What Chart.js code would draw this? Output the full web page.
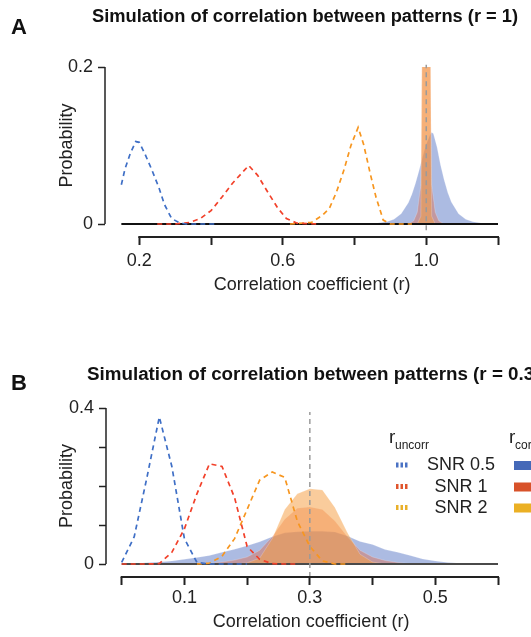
<!DOCTYPE html>
<html><head><meta charset="utf-8">
<script src="https://cdn.jsdelivr.net/npm/chart.js@4.4.1/dist/chart.umd.min.js"></script>
<style>
html,body{margin:0;padding:0;background:#fff;width:531px;height:637px;overflow:hidden}
canvas{display:block}
</style></head><body>
<canvas id="cA" width="531" height="320"></canvas>
<canvas id="cB" width="531" height="317"></canvas>
<script>
// ---------- Panel A data (true r = 1) ----------
const xA_unc05 = [0.15,0.16,0.175,0.19,0.20,0.215,0.235,0.255,0.27,0.29,0.31,0.33,0.42];
const yA_unc05 = [0.05,0.07,0.09,0.105,0.104,0.09,0.069,0.046,0.025,0.007,0.002,0,0];
const xA_unc1  = [0.25,0.30,0.34,0.37,0.40,0.43,0.46,0.48,0.505,0.53,0.555,0.585,0.61,0.64,0.70];
const yA_unc1  = [0,0,0.002,0.007,0.017,0.034,0.052,0.062,0.0745,0.062,0.043,0.021,0.007,0.001,0];
const xA_unc2  = [0.62,0.68,0.71,0.73,0.75,0.77,0.79,0.81,0.825,0.845,0.86,0.88,0.90,0.96];
const yA_unc2  = [0,0.002,0.011,0.02,0.041,0.068,0.1,0.123,0.102,0.062,0.034,0.005,0,0];
const xA_cor05 = [0.82,0.86,0.89,0.91,0.93,0.95,0.96,0.97,0.98,0.99,1.00,1.01,1.015,1.02,1.03,1.04,1.05,1.06,1.07,1.09,1.11,1.13,1.17];
const yA_cor05 = [0,0.001,0.003,0.006,0.013,0.027,0.038,0.052,0.068,0.086,0.102,0.113,0.117,0.115,0.098,0.075,0.056,0.04,0.028,0.013,0.006,0.003,0];
const xA_cor1  = [0.95,0.965,0.975,0.985,0.99,1.00,1.01,1.015,1.025,1.035,1.05];
const yA_cor1  = [0,0.004,0.015,0.05,0.3,0.45,0.3,0.05,0.015,0.004,0];
const xA_cor2  = [0.975,0.985,0.99,1.00,1.01,1.015,1.025];
const yA_cor2  = [0,0.01,0.35,0.8,0.35,0.01,0];
const xA_ticks = [0.2,0.4,0.6,0.8,1.0,1.2];
const xA_tickLabels = ['0.2','','0.6','','1.0',''];
const yA_ticks = [0,0.2];
const yA_tickLabels = ['0','0.2'];
const trueA = 1.0;
const baseA = [0.15,1.2];

// ---------- Panel B data (true r = 0.3) ----------
const xB_unc05 = [0,0.02,0.04,0.06,0.08,0.10,0.12,0.14,0.16,0.18,0.20];
const yB_unc05 = [0.004,0.07,0.22,0.377,0.25,0.065,0.004,0,0,0,0];
const xB_unc1  = [0,0.02,0.04,0.06,0.08,0.10,0.12,0.14,0.16,0.18,0.20,0.22,0.24,0.26,0.28];
const yB_unc1  = [0,0,0,0.001,0.03,0.09,0.18,0.257,0.25,0.17,0.045,0.012,0.001,0,0];
const xB_unc2  = [0.12,0.14,0.16,0.18,0.20,0.22,0.24,0.26,0.28,0.30,0.32,0.34,0.36];
const yB_unc2  = [0,0.002,0.02,0.065,0.14,0.215,0.236,0.222,0.11,0.045,0.008,0,0];
const xB_cor05 = [0,0.02,0.04,0.06,0.08,0.10,0.12,0.14,0.16,0.18,0.20,0.22,0.24,0.26,0.28,0.30,0.32,0.34,0.36,0.38,0.40,0.42,0.44,0.46,0.48,0.50,0.52,0.54,0.56];
const yB_cor05 = [0,0.001,0.003,0.005,0.008,0.012,0.017,0.022,0.03,0.038,0.047,0.057,0.07,0.08,0.083,0.084,0.084,0.082,0.072,0.058,0.05,0.037,0.03,0.022,0.013,0.008,0.004,0.002,0];
const xB_cor1  = [0.12,0.14,0.16,0.18,0.20,0.22,0.24,0.26,0.28,0.30,0.32,0.34,0.36,0.38,0.40,0.42,0.44,0.46,0.48];
const yB_cor1  = [0,0.002,0.005,0.01,0.018,0.035,0.07,0.115,0.143,0.146,0.14,0.11,0.07,0.035,0.018,0.009,0.004,0.001,0];
const xB_cor2  = [0.18,0.20,0.22,0.24,0.26,0.28,0.30,0.32,0.34,0.36,0.38,0.40,0.42];
const yB_cor2  = [0,0.003,0.015,0.065,0.14,0.18,0.193,0.19,0.145,0.08,0.025,0.005,0];
const xB_ticks = [0,0.1,0.2,0.3,0.4,0.5,0.6];
const xB_tickLabels = ['','0.1','','0.3','','0.5',''];
const yB_ticks = [0,0.1,0.2,0.3,0.4];
const yB_tickLabels = ['0','','','','0.4'];
const trueB = 0.3;
const baseB = [0,0.6];

const legendLabels = ['SNR 0.5','SNR 1','SNR 2'];

// ---------- styles ----------
const FONT = "'Liberation Sans', Arial, Helvetica, sans-serif";
const C_DASH = ['#3f6fc6','#f2412a','#f7961f'];
const C_FILL = ['rgba(74,106,192,0.46)','rgba(232,92,48,0.37)','rgba(246,158,68,0.53)'];
const C_KEY = ['#4569b8','#d8522a','#ebb024'];
const C_ICON = ['#4a72c4','#e0552d','#e9b02a'];

function pts(xs, ys){ return xs.map((x,i)=>({x:x, y:ys[i]})); }

function fillDs(xs, ys, k, order){
  return {data:pts(xs,ys), fill:'origin', backgroundColor:C_FILL[k], borderWidth:0.8,
          borderColor:'rgba(255,255,255,0.25)', pointRadius:0, tension:0, order:order};
}
function dashDs(xs, ys, k){
  return {data:pts(xs,ys), fill:false, borderColor:C_DASH[k], borderWidth:1.7, borderDash:[5,4],
          pointRadius:0, tension:0, order:3};
}

const decor = {
  id:'decor',
  afterDraw(chart, args, o){
    const ctx = chart.ctx, xs = chart.scales.x, ys = chart.scales.y, ca = chart.chartArea;
    ctx.save();
    ctx.strokeStyle = '#222'; ctx.lineCap = 'butt';
    ctx.lineWidth = 1.5;
    ctx.beginPath();
    ctx.moveTo(ca.left, ys.getPixelForValue(o.yr[0]));
    ctx.lineTo(ca.left, ys.getPixelForValue(o.yr[1]));
    ctx.stroke();
    ctx.lineWidth = 2;
    ctx.beginPath();
    ctx.moveTo(xs.getPixelForValue(o.xr[0]) - 1, ca.bottom);
    ctx.lineTo(xs.getPixelForValue(o.xr[1]) + 1, ca.bottom);
    ctx.stroke();
    ctx.fillStyle = '#111';
    ctx.textBaseline = 'alphabetic';
    ctx.textAlign = 'left';
    ctx.font = 'bold 22px ' + FONT;
    ctx.fillText(o.letter, o.letterX, o.letterY);
    ctx.font = 'bold ' + o.titleSize + 'px ' + FONT;
    ctx.fillText(o.title, o.titleX, o.titleY);
    ctx.fillStyle = '#222';
    ctx.font = '18px ' + FONT;
    ctx.textAlign = 'center';
    ctx.fillText('Correlation coefficient (r)', o.xtX, o.xtY);
    ctx.save();
    const yc = (ys.getPixelForValue(o.yr[0]) + ys.getPixelForValue(o.yr[1])) / 2;
    ctx.translate(o.ytX, yc);
    ctx.rotate(-Math.PI/2);
    ctx.textBaseline = 'middle';
    ctx.fillText('Probability', 0, 0);
    ctx.restore();
    if (o.legend) {
      const L = o.legend;
      ctx.textAlign = 'left';
      ctx.textBaseline = 'alphabetic';
      ctx.font = '19px ' + FONT;
      ctx.fillText('r', L.r1x, L.ry);
      ctx.fillText('r', L.r2x, L.ry);
      ctx.font = '12px ' + FONT;
      ctx.fillText('uncorr', L.r1x + 6, L.ry + 6);
      ctx.fillText('corr', L.r2x + 6, L.ry + 6);
      ctx.font = '18px ' + FONT;
      ctx.textAlign = 'center';
      for (let i = 0; i < legendLabels.length; i++) {
        const yy = L.rows[i];
        ctx.fillStyle = '#222';
        ctx.fillText(legendLabels[i], L.textX, yy + 6.5);
        ctx.strokeStyle = C_ICON[i];
        ctx.lineWidth = 5;
        ctx.setLineDash([2.5,2]);
        ctx.beginPath(); ctx.moveTo(L.iconX, yy + 1.5); ctx.lineTo(L.iconX + 13, yy + 1.5); ctx.stroke();
        ctx.setLineDash([]);
        ctx.fillStyle = C_KEY[i];
        ctx.fillRect(L.keyX, yy - 2.5, 30, 9);
      }
    }
    ctx.restore();
  }
};

function tickCfg(vals, labels, pad, len){
  return {
    afterBuildTicks: s => { s.ticks = vals.map(v => ({value:v})); },
    ticks: {
      autoSkip:false, maxRotation:0, padding:pad, color:'#222',
      font:{family:FONT, size:18},
      callback: (v) => { const i = vals.findIndex(t => Math.abs(t - v) < 1e-9); return i >= 0 ? labels[i] : ''; }
    },
    grid: {display:true, drawOnChartArea:false, drawTicks:true, tickLength:len, tickWidth:2, tickColor:'#222'},
    border: {display:false}
  };
}

function makeChart(id, P){
  const datasets = [
    fillDs(P.c05x, P.c05y, 0, 30),
    fillDs(P.c1x, P.c1y, 1, 20),
    fillDs(P.c2x, P.c2y, 2, 10),
    {data:[{x:P.base[0],y:0},{x:P.base[1],y:0}], borderColor:P.baseColor, borderWidth:2.2, pointRadius:0, fill:false, order:6},
    dashDs(P.u05x, P.u05y, 0),
    dashDs(P.u1x, P.u1y, 1),
    dashDs(P.u2x, P.u2y, 2),
    {data:[{x:P.truth,y:P.grayY[0]},{x:P.truth,y:P.grayY[1]}], borderColor:'#9b9b9b', borderWidth:1.5,
     borderDash:[5,4], pointRadius:0, fill:false, order:1, clip:false}
  ];
  const xc = tickCfg(P.xt, P.xl, P.xPad, 8);
  xc.type = 'linear'; xc.min = P.xmin; xc.max = P.xmax;
  xc.afterFit = s => { s.height = P.xH; };
  const yc = tickCfg(P.yt, P.yl, 5, 7);
  yc.type = 'linear'; yc.min = P.ymin; yc.max = P.ymax;
  yc.afterFit = s => { s.width = P.yW; };
  yc.grid.tickWidth = 1.5;
  return new Chart(document.getElementById(id), {
    type:'line',
    data:{datasets:datasets},
    options:{
      responsive:false, animation:false, events:[],
      layout:{padding:{top:P.padTop, right:33, bottom:0, left:0}},
      scales:{x:xc, y:yc},
      plugins:{legend:{display:false}, tooltip:{enabled:false}, decor:P.decor}
    },
    plugins:[decor]
  });
}

makeChart('cA', {
  c05x:xA_cor05, c05y:yA_cor05, c1x:xA_cor1, c1y:yA_cor1, c2x:xA_cor2, c2y:yA_cor2,
  u05x:xA_unc05, u05y:yA_unc05, u1x:xA_unc1, u1y:yA_unc1, u2x:xA_unc2, u2y:yA_unc2,
  base:baseA, baseColor:'#111', truth:trueA, grayY:[-0.008,0.203],
  xt:xA_ticks, xl:xA_tickLabels, yt:yA_ticks, yl:yA_tickLabels,
  xmin:0.1044, xmax:1.2, ymin:-0.01656, ymax:0.2, xH:83, yW:105, padTop:67, xPad:5,
  decor:{xr:[0.2,1.2], yr:[0,0.2], letter:'A', letterX:11, letterY:34,
    title:'Simulation of correlation between patterns (r = 1)', titleX:92, titleY:22, titleSize:18.3,
    xtX:312, xtY:290, ytX:67}
});

makeChart('cB', {
  c05x:xB_cor05, c05y:yB_cor05, c1x:xB_cor1, c1y:yB_cor1, c2x:xB_cor2, c2y:yB_cor2,
  u05x:xB_unc05, u05y:yB_unc05, u1x:xB_unc1, u1y:yB_unc1, u2x:xB_unc2, u2y:yB_unc2,
  base:baseB, baseColor:'#4a4a4a', truth:trueB, grayY:[-0.0333,0.39],
  xt:xB_ticks, xl:xB_tickLabels, yt:yB_ticks, yl:yB_tickLabels,
  xmin:-0.025, xmax:0.6, ymin:-0.0333, ymax:0.4, xH:60, yW:106, padTop:88, xPad:2,
  decor:{xr:[0,0.6], yr:[0,0.4], letter:'B', letterX:11, letterY:70,
    title:'Simulation of correlation between patterns (r = 0.3)', titleX:87, titleY:60, titleSize:18.8,
    xtX:311, xtY:307, ytX:67,
    legend:{r1x:389, r2x:509, ry:123, rows:[143.5,165,186], textX:461, iconX:396, keyX:514}}
});
</script>
</body></html>
